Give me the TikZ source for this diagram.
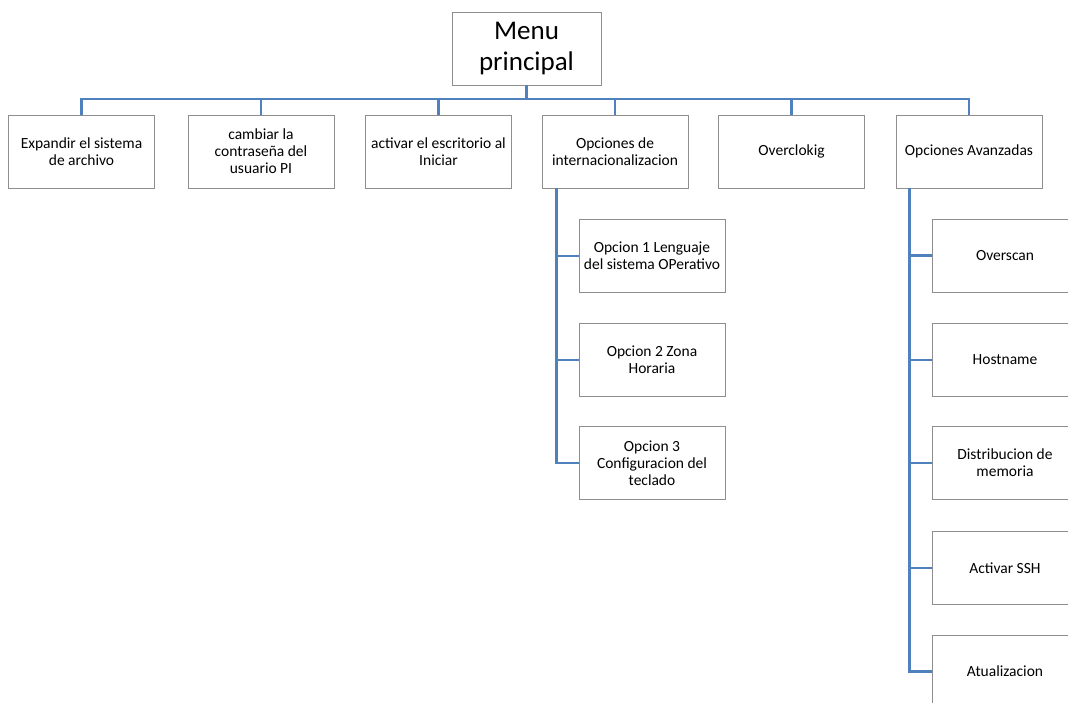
\documentclass[tikz,border=0pt]{standalone}
\usepackage{fontspec}
\setmainfont{Carlito}
\definecolor{linkblue}{HTML}{4F81BD}
\definecolor{boxgray}{HTML}{8E8E8E}
\begin{document}
\begin{tikzpicture}[x=1pt,y=-1pt,
  box/.style={draw=boxgray, line width=0.9pt, fill=white, align=center,
    minimum width=146pt, minimum height=73pt, inner sep=1pt,
    font=\fontsize{15.5}{17}\selectfont},
  rootbox/.style={box, minimum width=149pt, font=\fontsize{27}{30.5}\selectfont},
  conn/.style={draw=linkblue, line width=2.5pt}]
\useasboundingbox (0,0) rectangle (1068,702);
\clip (0,0) rectangle (1068,702);

% root and first level
\node[rootbox] (root) at (526.5,48.5) {Menu\\principal};
\node[box] (b1) at (81.5,151.5) {Expandir el sistema\\de archivo};
\node[box] (b2) at (261,151.5) {cambiar la\\contraseña del\\usuario PI};
\node[box] (b3) at (438.5,151.5) {activar el escritorio al\\Iniciar};
\node[box] (b4) at (615,151.5) {Opciones de\\internacionalizacion};
\node[box] (b5) at (791.5,151.5) {Overclokig};
\node[box] (b6) at (969,151.5) {Opciones Avanzadas};

% internationalisation options
\node[box] (i1) at (652,256) {Opcion 1 Lenguaje\\del sistema OPerativo};
\node[box] (i2) at (652,360) {Opcion 2 Zona\\Horaria};
\node[box] (i3) at (652,463) {Opcion 3\\Configuracion del\\teclado};

% advanced options
\node[box] (a1) at (1005,255.5) {Overscan};
\node[box] (a2) at (1005,360) {Hostname};
\node[box] (a3) at (1005,463) {Distribucion de\\memoria};
\node[box] (a4) at (1005,568) {Activar SSH};
\node[box] (a5) at (1005,671.5) {Atualizacion};

% connectors
\coordinate (bus) at (0,99);
\foreach \n in {b1,b2,b3,b4,b5,b6}
  \draw[conn] (root.south) -- (root.south |- bus) -| (\n.north);

\coordinate (ti) at ([xshift=15pt]b4.south west);
\foreach \n in {i1,i2,i3}
  \draw[conn] (ti) |- (\n.west);

\coordinate (ta) at ([xshift=14pt]b6.south west);
\foreach \n in {a1,a2,a3,a4,a5}
  \draw[conn] (ta) |- (\n.west);
\end{tikzpicture}
\end{document}
